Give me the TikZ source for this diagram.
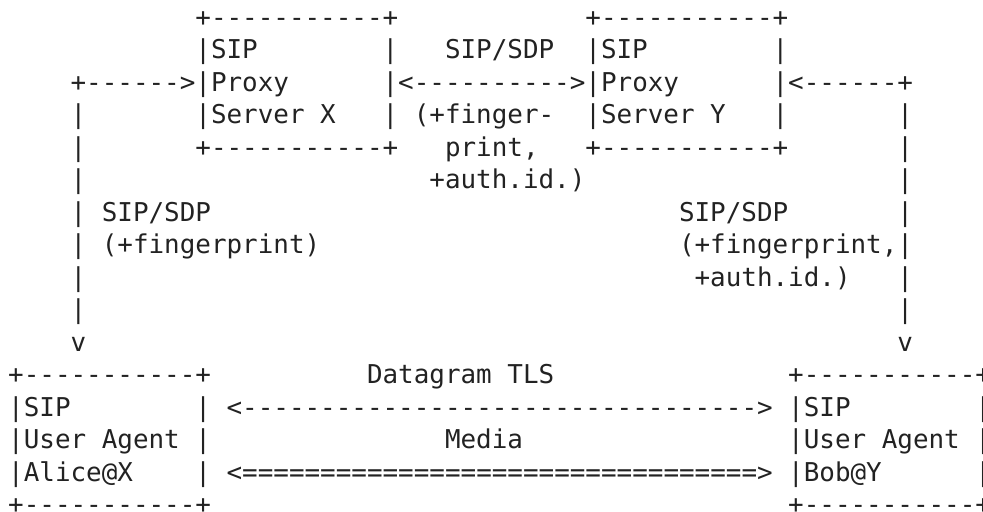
\documentclass[tikz,border=0pt]{standalone}
\usepackage{fontspec}
\setmonofont{DejaVu Sans Mono}
\definecolor{ink}{HTML}{222222}

\begin{document}
\begin{tikzpicture}[x=7.8pt, y=-16.25pt,
    ascii/.style={font=\ttfamily\fontsize{12.96}{15}\selectfont, text=ink,
                  anchor=base west, inner sep=0pt, outer sep=0pt}]
        \useasboundingbox (-0.526,-0.815) rectangle (62.487,14.938);

        % Proxy Server X
        \node[ascii] (pxTop) at (12,0) {+-----------+};
        \node[ascii] (pxSip) at (12,1) {|SIP};
        \node[ascii] (pxSipR) at (24,1) {|};
        \node[ascii] (pxProxy) at (4,2) {+------>|Proxy};
        \node[ascii] (pxServer) at (12,3) {|Server X};
        \node[ascii] (pxServerR) at (24,3) {|};
        \node[ascii] (pxBottom) at (12,4) {+-----------+};

        % Proxy to proxy
        \node[ascii] (ppSdp) at (28,1) {SIP/SDP};
        \node[ascii] (ppArrow) at (24,2) {|<---------->|Proxy};
        \node[ascii] (ppFinger) at (26,3) {(+finger-};
        \node[ascii] (ppPrint) at (28,4) {print,};
        \node[ascii] (ppAuth) at (27,5) {+auth.id.)};

        % Proxy Server Y
        \node[ascii] (pyTop) at (37,0) {+-----------+};
        \node[ascii] (pySip) at (37,1) {|SIP};
        \node[ascii] (pySipR) at (49,1) {|};
        \node[ascii] (pyProxyR) at (49,2) {|<------+};
        \node[ascii] (pyServer) at (37,3) {|Server Y};
        \node[ascii] (pyServerR) at (49,3) {|};
        \node[ascii] (pyBottom) at (37,4) {+-----------+};

        % Left leg: Proxy X to Alice
        \node[ascii] (lf3) at (4,3) {|};
        \node[ascii] (lf4) at (4,4) {|};
        \node[ascii] (lf5) at (4,5) {|};
        \node[ascii] (lfSdp) at (4,6) {| SIP/SDP};
        \node[ascii] (lfFinger) at (4,7) {| (+fingerprint)};
        \node[ascii] (lf8) at (4,8) {|};
        \node[ascii] (lf9) at (4,9) {|};
        \node[ascii] (lfTip) at (4,10) {v};

        % Right leg: Proxy Y to Bob
        \node[ascii] (rt3) at (57,3) {|};
        \node[ascii] (rt4) at (57,4) {|};
        \node[ascii] (rt5) at (57,5) {|};
        \node[ascii] (rtSdp) at (43,6) {SIP/SDP};
        \node[ascii] (rt6) at (57,6) {|};
        \node[ascii] (rtFinger) at (43,7) {(+fingerprint,|};
        \node[ascii] (rtAuth) at (44,8) {+auth.id.)};
        \node[ascii] (rt8) at (57,8) {|};
        \node[ascii] (rt9) at (57,9) {|};
        \node[ascii] (rtTip) at (57,10) {v};

        % User Agent Alice
        \node[ascii] (alTop) at (0,11) {+-----------+};
        \node[ascii] (alSip) at (0,12) {|SIP};
        \node[ascii] (alSipR) at (12,12) {|};
        \node[ascii] (alAgent) at (0,13) {|User Agent |};
        \node[ascii] (alName) at (0,14) {|Alice@X};
        \node[ascii] (alNameR) at (12,14) {|};
        \node[ascii] (alBottom) at (0,15) {+-----------+};

        % DTLS and media
        \node[ascii] (dtlsLabel) at (23,11) {Datagram TLS};
        \node[ascii] (dtlsArrow) at (14,12) {<--------------------------------->};
        \node[ascii] (mediaLabel) at (28,13) {Media};
        \node[ascii] (mediaArrow) at (14,14) {<=================================>};

        % User Agent Bob
        \node[ascii] (bbTop) at (50,11) {+-----------+};
        \node[ascii] (bbSip) at (50,12) {|SIP};
        \node[ascii] (bbSipR) at (62,12) {|};
        \node[ascii] (bbAgent) at (50,13) {|User Agent |};
        \node[ascii] (bbName) at (50,14) {|Bob@Y};
        \node[ascii] (bbNameR) at (62,14) {|};
        \node[ascii] (bbBottom) at (50,15) {+-----------+};
    \end{tikzpicture}
\end{document}
